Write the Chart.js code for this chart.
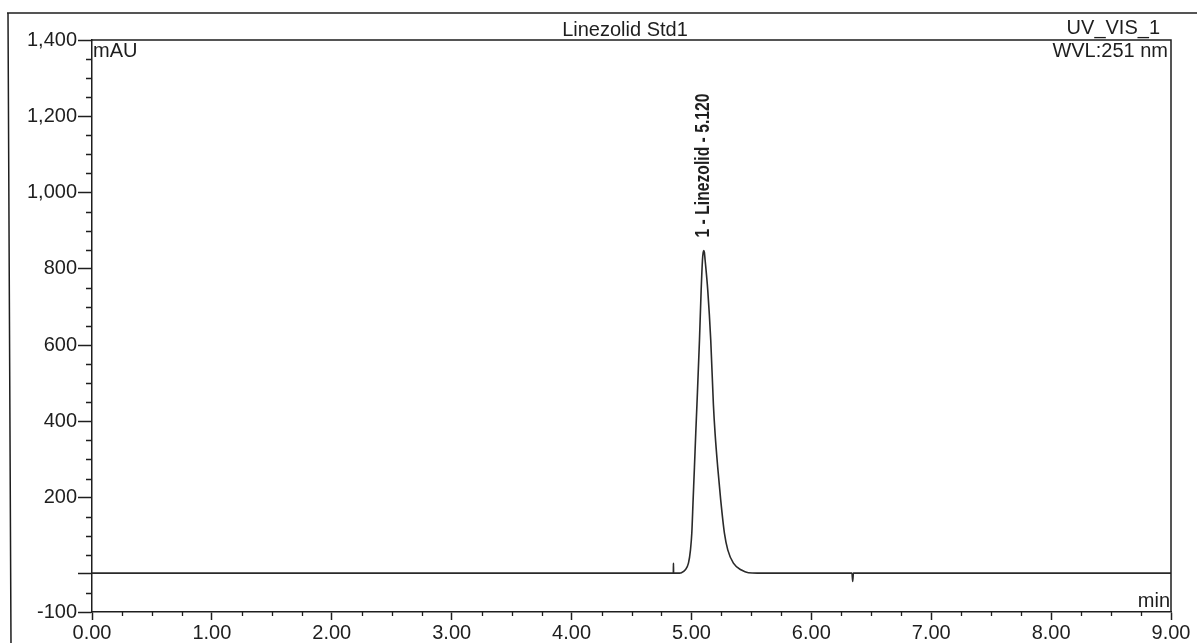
<!DOCTYPE html>
<html>
<head>
<meta charset="utf-8">
<script src="https://cdn.jsdelivr.net/npm/chart.js@4.4.1/dist/chart.umd.min.js"></script>
<style>
  html, body { margin: 0; padding: 0; background: #ffffff; }
  #wrap { width: 1197px; height: 643px; }
</style>
</head>
<body>
<div id="wrap"><canvas id="c" width="1197" height="643"></canvas></div>
<script>
// ---- Data ----
const times = [0, 4.84, 4.849, 4.85, 4.851, 4.90, 4.917, 4.947, 4.975, 4.992, 5.003, 5.014, 5.025, 5.036, 5.046, 5.067, 5.081, 5.092, 5.098, 5.103, 5.108, 5.114, 5.136, 5.161, 5.183, 5.197, 5.219, 5.244, 5.275, 5.303, 5.35, 5.417, 5.475, 5.55, 6.339, 6.345, 6.351, 9.0];
const mAU   = [2, 2, 2, 28, 2, 2, 3, 10, 28, 63, 107, 194, 280, 369, 445, 613, 744, 823, 843, 848, 843, 823, 744, 613, 445, 369, 280, 194, 107, 63, 28, 10, 3, 2, 2, -20, 2, 2];

const xMajorTicks = [0, 1, 2, 3, 4, 5, 6, 7, 8, 9];
const xTickLabels = ['0.00', '1.00', '2.00', '3.00', '4.00', '5.00', '6.00', '7.00', '8.00', '9.00'];
const yMajorTicks = [-100, 0, 200, 400, 600, 800, 1000, 1200, 1400];
const yTickLabels = ['-100', '', '200', '400', '600', '800', '1,000', '1,200', '1,400'];
const xMinorStep = 0.25;
const yMinorStep = 50;

const chartTitle = 'Linezolid Std1';
const channelName = 'UV_VIS_1';
const wavelengthText = 'WVL:251 nm';
const yUnit = 'mAU';
const xUnit = 'min';
const peakLabel = '1 - Linezolid - 5.120';

const FONT = '"Liberation Sans", Arial, Helvetica, sans-serif';
const INK = '#1e1e1e';

const decorPlugin = {
  id: 'decor',
  afterDraw(chart) {
    const ctx = chart.ctx;
    const a = chart.chartArea;
    const xs = chart.scales.x, ys = chart.scales.y;
    ctx.save();
    ctx.strokeStyle = INK;
    ctx.lineWidth = 1.5;
    // outer frame (top rule + left rule of the printed page)
    ctx.beginPath();
    ctx.moveTo(7, 13); ctx.lineTo(1197, 13);
    ctx.moveTo(8, 13); ctx.lineTo(11, 643);
    ctx.stroke();
    // plot box top and right edges
    ctx.beginPath();
    ctx.moveTo(a.left, a.top); ctx.lineTo(a.right, a.top); ctx.lineTo(a.right, a.bottom);
    ctx.stroke();
    // minor ticks
    ctx.lineWidth = 1.3;
    ctx.beginPath();
    for (let v = ys.min; v <= ys.max + 1e-9; v += yMinorStep) {
      if (yMajorTicks.includes(Math.round(v))) continue;
      const py = Math.round(ys.getPixelForValue(v)) + 0.5;
      ctx.moveTo(a.left - 6, py); ctx.lineTo(a.left, py);
    }
    for (let t = xs.min; t <= xs.max + 1e-9; t += xMinorStep) {
      if (xMajorTicks.includes(Math.round(t * 100) / 100)) continue;
      const px = Math.round(xs.getPixelForValue(t)) + 0.5;
      ctx.moveTo(px, a.bottom); ctx.lineTo(px, a.bottom + 4);
    }
    ctx.stroke();

    // texts
    ctx.fillStyle = INK;
    ctx.font = '20px ' + FONT;
    ctx.textBaseline = 'alphabetic';
    ctx.textAlign = 'center';
    ctx.fillText(chartTitle, 625, 36);
    ctx.textAlign = 'right';
    ctx.fillText(channelName, 1160, 34);
    ctx.textBaseline = 'middle';
    ctx.fillText(wavelengthText, a.right - 3, 51);
    ctx.textAlign = 'left';
    ctx.fillText(yUnit, a.left + 1, 51);
    ctx.textAlign = 'right';
    ctx.fillText(xUnit, a.right - 1, 601);

    // peak label (rotated), placed over the apex of the trace
    let iMax = 0;
    for (let i = 1; i < mAU.length; i++) if (mAU[i] > mAU[iMax]) iMax = i;
    const px = xs.getPixelForValue(times[iMax]);
    const py = ys.getPixelForValue(mAU[iMax]);
    ctx.font = 'bold 20px ' + FONT;
    const w = ctx.measureText(peakLabel).width;
    const target = 144;
    ctx.translate(px, py - 13);
    ctx.rotate(-Math.PI / 2);
    ctx.scale(target / w, 1);
    ctx.textAlign = 'left';
    ctx.textBaseline = 'middle';
    ctx.fillText(peakLabel, 0, 0);
    ctx.restore();
  }
};

new Chart(document.getElementById('c'), {
  type: 'line',
  data: {
    datasets: [{
      data: times.map((t, i) => ({ x: t, y: mAU[i] })),
      borderColor: '#2a2a2a',
      borderWidth: 1.6,
      pointRadius: 0,
      cubicInterpolationMode: 'monotone',
      fill: false
    }]
  },
  options: {
    responsive: false,
    animation: false,
    events: [],
    layout: { padding: { top: 40, right: 26, left: 0, bottom: 0 } },
    plugins: { legend: { display: false }, title: { display: false }, tooltip: { enabled: false } },
    scales: {
      x: {
        type: 'linear', min: 0, max: 9,
        afterBuildTicks: s => { s.ticks = xMajorTicks.map(v => ({ value: v })); },
        afterFit: s => { s.height = 31; s.paddingLeft = 0; s.paddingRight = 0; },
        ticks: {
          callback: (v, i) => xTickLabels[i],
          font: { family: FONT, size: 20 }, color: INK,
          padding: 1, maxRotation: 0, autoSkip: false
        },
        grid: { drawOnChartArea: false, drawTicks: true, tickLength: 8, tickColor: INK, tickWidth: 1.5 },
        border: { display: true, color: INK, width: 1.5 }
      },
      y: {
        type: 'linear', min: -100, max: 1400,
        afterBuildTicks: s => { s.ticks = yMajorTicks.map(v => ({ value: v })); },
        afterFit: s => { s.width = 92; s.paddingTop = 0; s.paddingBottom = 0; },
        ticks: {
          callback: (v, i) => yTickLabels[i],
          font: { family: FONT, size: 20 }, color: INK,
          padding: 1, autoSkip: false
        },
        grid: { drawOnChartArea: false, drawTicks: true, tickLength: 14, tickColor: INK, tickWidth: 1.5 },
        border: { display: true, color: INK, width: 1.5 }
      }
    }
  },
  plugins: [decorPlugin]
});
</script>
</body>
</html>
